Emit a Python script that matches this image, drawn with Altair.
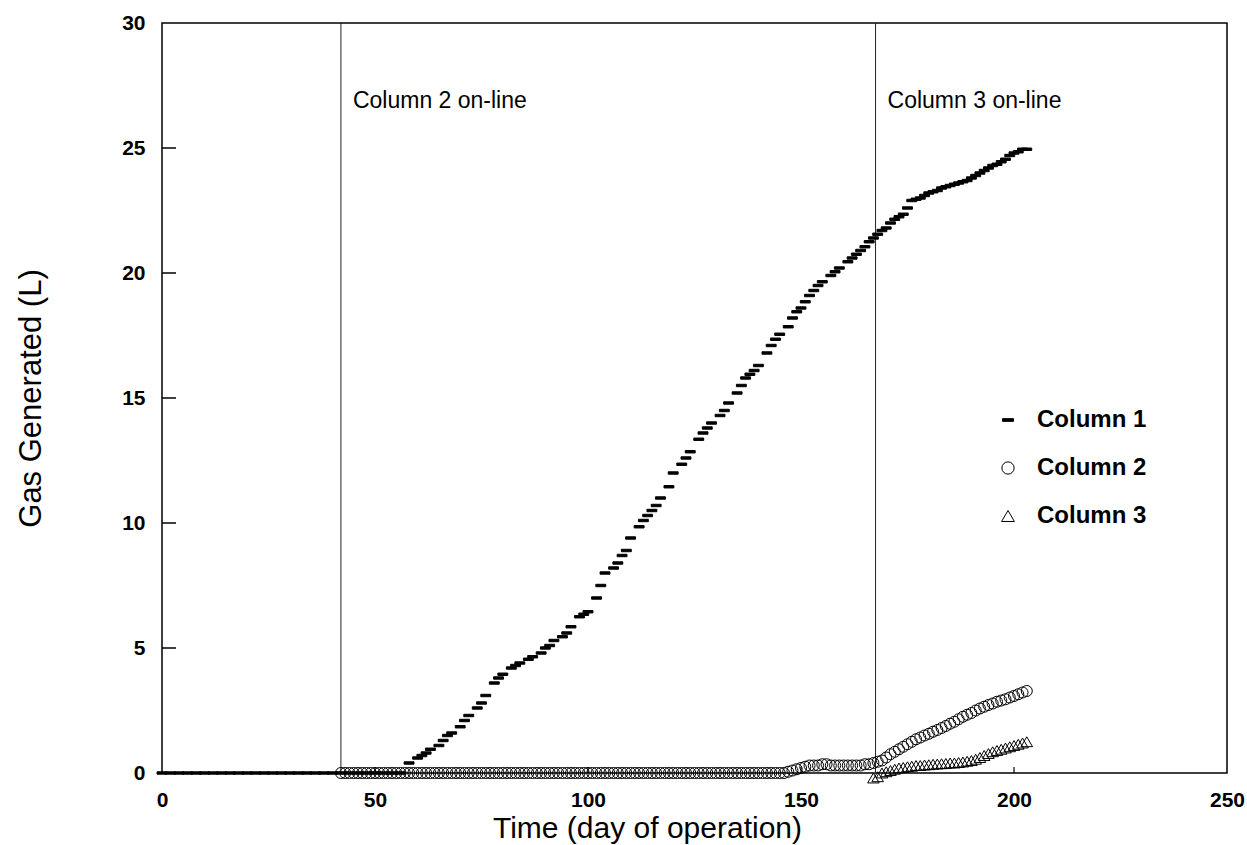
import altair as alt
import pandas as pd

FONT = "Liberation Sans"

# ---------------- data ----------------
c1_days = [0, 2, 4, 6, 8, 10, 12, 14, 16, 18, 20, 22, 24, 26, 28, 30, 32, 34, 36, 38, 40, 42, 44, 46, 48, 50, 52, 54, 56,
           58, 60, 61, 62, 63, 65, 66, 67, 68, 70, 71, 72, 74, 75, 76, 78, 79, 80, 82, 83, 84, 86, 87, 89, 90, 91, 92, 94, 95, 96, 98, 99, 100,
           102, 103, 104, 106, 107, 108, 109, 110, 112, 113, 114, 115, 116, 117, 119, 120, 122, 123, 124, 126,
           127, 128, 129, 131, 132, 133, 135, 136, 137, 138, 139, 140,
           142, 143, 144, 145, 147, 148, 149, 150, 151, 152, 153, 154, 155, 157, 158, 159, 161, 162, 163, 164,
           165, 166, 167, 168, 169, 170, 171, 172, 173, 174, 175, 176, 177, 178, 179, 180, 181, 182, 183, 184,
           185, 186, 187, 188, 189, 190, 191, 192, 193, 194, 195, 196, 197, 198, 199, 200, 201, 202, 203]
c1_vals = [0, 0, 0, 0, 0, 0, 0, 0, 0, 0, 0, 0, 0, 0, 0, 0, 0, 0, 0, 0, 0, 0, 0, 0, 0, 0, 0, 0, 0,
           0.4, 0.6, 0.7, 0.8, 0.95, 1.1, 1.3, 1.5, 1.6, 1.85, 2.1, 2.3, 2.6, 2.8, 3.1, 3.6, 3.8, 3.95, 4.2, 4.3,
           4.4, 4.55, 4.65, 4.8, 5.0, 5.1, 5.3, 5.45, 5.6, 5.85, 6.25, 6.35, 6.45,
           7.0, 7.5, 8.0, 8.2, 8.4, 8.7, 8.9, 9.4, 9.85, 10.1, 10.3, 10.5, 10.7, 11.0, 11.45, 12.0, 12.35, 12.6, 12.85, 13.35,
           13.6, 13.8, 14.0, 14.3, 14.5, 14.8, 15.2, 15.5, 15.8, 15.95, 16.1, 16.3,
           16.8, 17.1, 17.35, 17.55, 17.85, 18.2, 18.45, 18.6, 18.85, 19.1, 19.3, 19.5, 19.65, 19.9, 20.05, 20.2, 20.45, 20.6, 20.75, 20.9,
           21.05, 21.25, 21.4, 21.55, 21.7, 21.8, 22.0, 22.15, 22.25, 22.35, 22.6, 22.9, 22.95, 23.0, 23.1, 23.2, 23.25, 23.3, 23.4, 23.45,
           23.5, 23.55, 23.6, 23.65, 23.7, 23.8, 23.9, 24.0, 24.1, 24.2, 24.3, 24.35, 24.45, 24.55, 24.7, 24.8, 24.85, 24.95, 24.95]

c2_days = [42, 43, 44, 45, 46, 47, 48, 49, 50, 51, 52, 53, 54, 55, 56,
           57, 58, 59, 60, 61, 62, 63, 64, 65, 66, 67, 68, 69, 70, 71,
           72, 73, 74, 75, 76, 77, 78, 79, 80, 81, 82, 83, 84, 85, 86,
           87, 88, 89, 90, 91, 92, 93, 94, 95, 96, 97, 98, 99, 100, 101,
           102, 103, 104, 105, 106, 107, 108, 109, 110, 111, 112, 113, 114, 115, 116,
           117, 118, 119, 120, 121, 122, 123, 124, 125, 126, 127, 128, 129, 130, 131,
           132, 133, 134, 135, 136, 137, 138, 139, 140, 141, 142, 143, 144, 145, 146,
           147, 148, 149, 150, 151, 152, 153, 154, 155, 156, 157, 158, 159, 160, 161, 162, 163, 164, 165, 166, 167, 168, 169,
           170, 171, 172, 173, 174, 175, 176, 177, 178, 179, 180, 181, 182, 183, 184, 185, 186, 187, 188, 189,
           190, 191, 192, 193, 194, 195, 196, 197, 198, 199, 200, 201, 202, 203]
c2_vals = [0, 0, 0, 0, 0, 0, 0, 0, 0, 0, 0, 0, 0, 0, 0,
           0, 0, 0, 0, 0, 0, 0, 0, 0, 0, 0, 0, 0, 0, 0,
           0, 0, 0, 0, 0, 0, 0, 0, 0, 0, 0, 0, 0, 0, 0,
           0, 0, 0, 0, 0, 0, 0, 0, 0, 0, 0, 0, 0, 0, 0,
           0, 0, 0, 0, 0, 0, 0, 0, 0, 0, 0, 0, 0, 0, 0,
           0, 0, 0, 0, 0, 0, 0, 0, 0, 0, 0, 0, 0, 0, 0,
           0, 0, 0, 0, 0, 0, 0, 0, 0, 0, 0, 0, 0, 0, 0,
           0.05, 0.1, 0.15, 0.2, 0.25, 0.3, 0.3, 0.3, 0.35, 0.35, 0.3, 0.3, 0.3, 0.3, 0.3, 0.3, 0.3, 0.3, 0.35, 0.35, 0.4, 0.45, 0.5,
           0.62, 0.75, 0.85, 0.95, 1.05, 1.15, 1.25, 1.35, 1.42, 1.5, 1.57, 1.65, 1.72, 1.8, 1.88, 1.97, 2.05, 2.15, 2.25, 2.33,
           2.4, 2.5, 2.58, 2.65, 2.72, 2.78, 2.85, 2.9, 2.95, 3.02, 3.08, 3.15, 3.22, 3.28]

c3_days = [167, 168, 169, 170, 171, 172, 173, 174, 175, 176, 177, 178, 179, 180, 181, 182, 183, 184, 185, 186,
           187, 188, 189, 190, 191, 192, 193, 194, 195, 196, 197, 198, 199, 200, 201, 202, 203]
c3_vals = [-0.2, -0.15, 0.0, 0.05, 0.1, 0.15, 0.2, 0.22, 0.25, 0.27, 0.3, 0.3, 0.32, 0.33, 0.35, 0.36, 0.37, 0.38, 0.4, 0.4,
           0.42, 0.44, 0.47, 0.5, 0.55, 0.62, 0.7, 0.78, 0.85, 0.9, 0.95, 1.0, 1.05, 1.1, 1.15, 1.2, 1.25]

series_names = ["Column 1", "Column 2", "Column 3"]
event_days = [42, 167.5]
event_labels = ["Column 2 on-line", "Column 3 on-line"]
event_label_y = [26.6, 26.6]
x_tick_labels = [0, 50, 100, 150, 200, 250]
y_tick_labels = [0, 5, 10, 15, 20, 25, 30]
x_inner_ticks = [50, 100, 150, 200]
y_inner_ticks = [5, 10, 15, 20, 25]

# ---------------- tables ----------------
rows = []
for name, days, vals in zip(series_names, [c1_days, c2_days, c3_days], [c1_vals, c2_vals, c3_vals]):
    for d, v in zip(days, vals):
        rows.append({"day": d, "gas": v, "series": name})
pts = pd.DataFrame(rows)
events = pd.DataFrame({"day": event_days, "label": event_labels, "gas": event_label_y})
ytk = pd.DataFrame({"gas": y_inner_ticks})
xtk = pd.DataFrame({"day": x_inner_ticks})

xscale = alt.Scale(domain=[0, 250], nice=False, zero=False)
yscale = alt.Scale(domain=[0, 30], nice=False, zero=False)

xaxis = alt.Axis(values=x_tick_labels, ticks=False, domain=False, grid=False,
                 labelFont=FONT, labelFontSize=21, labelFontWeight="bold", labelColor="black",
                 labelPadding=16, labelFlush=False, labelOverlap=False,
                 title="Time (day of operation)", titleFont=FONT, titleFontSize=30,
                 titleFontWeight="normal", titleColor="black", titleX=485, titleY=64,
                 titleBaseline="alphabetic", titleAlign="center")
yaxis = alt.Axis(values=y_tick_labels, ticks=False, domain=False, grid=False,
                 labelFont=FONT, labelFontSize=21, labelFontWeight="bold", labelColor="black",
                 labelPadding=17, labelFlush=False, labelOverlap=False,
                 title="Gas Generated (L)", titleFont=FONT, titleFontSize=31,
                 titleFontWeight="normal", titleColor="black", titleX=-131, titleY=375,
                 titleAngle=270, titleBaseline="middle", titleAlign="center")

X = alt.X("day:Q", scale=xscale, axis=xaxis)
Y = alt.Y("gas:Q", scale=yscale, axis=yaxis)

vlines = alt.Chart(events).mark_rule(color="#222", strokeWidth=1).encode(x=X)
labels = alt.Chart(events).mark_text(align="left", baseline="alphabetic", dx=12, font=FONT,
                                     fontSize=23, color="black").encode(x=X, y=Y, text="label:N")
yticks = alt.Chart(ytk).mark_rule(color="black", strokeWidth=1.5).encode(
    y=Y, x=alt.value(0), x2=alt.value(14))
xticks = alt.Chart(xtk).mark_rule(color="black", strokeWidth=1.2).encode(
    x=X, y=alt.value(750), y2=alt.value(744))

dash = "M-0.9,-0.22L0.9,-0.22L0.9,0.22L-0.9,0.22Z"
tri = "M-1.05,0.9L1.05,0.9L0,-0.9Z"
legend = alt.Legend(orient="none", legendX=834, legendY=385, title=None,
                    labelFont=FONT, labelFontSize=24, labelFontWeight="bold", labelColor="black",
                    symbolSize=150, symbolStrokeColor="black", symbolStrokeWidth=1,
                    rowPadding=24, labelOffset=17, padding=0)

points = alt.Chart(pts).mark_point(filled=True, strokeWidth=1, opacity=1, size=121).encode(
    x=X, y=Y,
    shape=alt.Shape("series:N", scale=alt.Scale(domain=series_names, range=[dash, "circle", tri]),
                    legend=legend),
    fill=alt.Fill("series:N", scale=alt.Scale(domain=series_names, range=["black", "transparent", "transparent"]),
                  legend=legend),
    stroke=alt.Stroke("series:N", scale=alt.Scale(domain=series_names, range=["black", "black", "black"]),
                      legend=legend),
)

chart = alt.layer(vlines, labels, yticks, xticks, points).properties(
    width=1065, height=750,
    padding={"left": 162, "top": 23, "right": 20, "bottom": 72},
    autosize=alt.AutoSizeParams(type="none"),
    background="white",
).configure_view(stroke="black", strokeWidth=1.5)

chart.save("out.html", embed_options={"renderer": "svg", "actions": False})
